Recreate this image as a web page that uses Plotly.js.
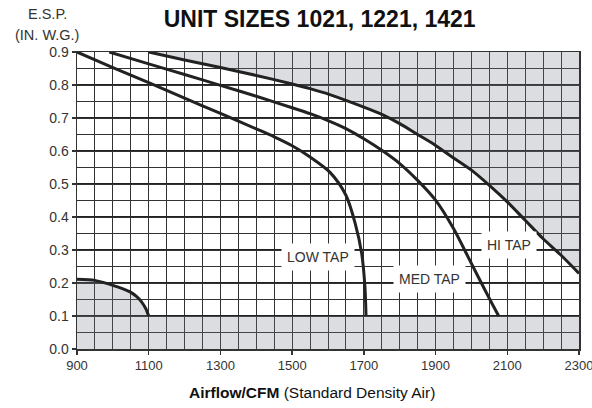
<!DOCTYPE html>
<html><head><meta charset="utf-8">
<script src="https://cdn.plot.ly/plotly-3.0.1.min.js"></script>
<style>html,body{margin:0;padding:0;background:#fff}#c{width:592px;height:408px}</style>
</head><body><div id="c"></div>
<script>
// Fan performance curves (CFM vs E.S.P.)
const lowX = [900, 1000, 1100, 1200, 1300, 1400, 1450, 1500, 1550, 1605, 1650, 1676, 1694, 1703, 1706];
const lowY = [0.9, 0.853, 0.807, 0.760, 0.714, 0.667, 0.643, 0.616, 0.582, 0.536, 0.466, 0.380, 0.289, 0.188, 0.10];
const medX = [990, 1100, 1200, 1300, 1400, 1500, 1550, 1605, 1650, 1700, 1750, 1800, 1850, 1900, 1950, 2000, 2050, 2076];
const medY = [0.9, 0.864, 0.832, 0.799, 0.766, 0.731, 0.713, 0.690, 0.668, 0.637, 0.602, 0.562, 0.511, 0.451, 0.365, 0.259, 0.153, 0.10];
const hiX = [1100, 1200, 1300, 1400, 1500, 1550, 1605, 1700, 1750, 1800, 1850, 1900, 1950, 2000, 2050, 2100, 2150, 2200, 2250, 2300];
const hiY = [0.9, 0.876, 0.853, 0.829, 0.803, 0.789, 0.771, 0.733, 0.711, 0.683, 0.650, 0.617, 0.579, 0.542, 0.496, 0.446, 0.390, 0.334, 0.284, 0.229];
// lower-left limit curve
const limX = [900, 950, 975, 1000, 1025, 1048, 1065, 1080, 1092, 1100];
const limY = [0.211, 0.208, 0.201, 0.193, 0.184, 0.173, 0.160, 0.143, 0.122, 0.10];
const bottomLimit = 0.1;
const xMin = 900, xMax = 2300, yMin = 0, yMax = 0.9;
const xTicks = [900, 1100, 1300, 1500, 1700, 1900, 2100, 2300];
const yTicks = [0.0, 0.1, 0.2, 0.3, 0.4, 0.5, 0.6, 0.7, 0.8, 0.9];
const xGridStep = 50, yGridStep = 0.05;
const tapLabels = ["LOW TAP", "MED TAP", "HI TAP"];
const tapLabelX = [1572, 1884, 2104];
const tapLabelY = [0.279, 0.212, 0.315];

const shade = 'rgba(120,125,135,0.26)';
const lineCol = '#222';

// top-right shaded region (above HI TAP)
const topX = hiX.concat([xMax, hiX[0]]);
const topY = hiY.concat([yMax, yMax]);
// bottom shaded region
const botX = [xMin, xMax, xMax].concat(limX.slice().reverse()).concat([xMin]);
const botY = [yMin, yMin, bottomLimit].concat(limY.slice().reverse()).concat([yMin]);

const curve = {color: lineCol, width: 3, shape: 'spline', smoothing: 0.8};
const traces = [
  {x: topX, y: topY, mode: 'lines', fill: 'toself', fillcolor: shade, line: {width: 0}, hoverinfo: 'skip'},
  {x: botX, y: botY, mode: 'lines', fill: 'toself', fillcolor: shade, line: {width: 0}, hoverinfo: 'skip'},
  {x: lowX, y: lowY, mode: 'lines', line: curve},
  {x: medX, y: medY, mode: 'lines', line: curve},
  {x: hiX, y: hiY, mode: 'lines', line: curve},
  {x: limX, y: limY, mode: 'lines', line: curve},
  // carrier for the fine horizontal grid axis (draws nothing)
  {x: lowX, y: lowY, yaxis: 'y2', mode: 'none', hoverinfo: 'skip'}
];

const font = 'Liberation Sans, Arial, sans-serif';
const annotations = tapLabels.map((t, i) => ({
  x: tapLabelX[i], y: tapLabelY[i], xref: 'x', yref: 'y', text: t, showarrow: false,
  bgcolor: '#fff', borderpad: 5, font: {family: font, size: 14, color: '#333'}
}));
annotations.push({xref: 'paper', yref: 'paper', x: -0.059, y: 1.128, text: 'E.S.P.', showarrow: false,
  xanchor: 'center', yanchor: 'middle', font: {family: font, size: 14.5, color: '#333'}});
annotations.push({xref: 'paper', yref: 'paper', x: -0.059, y: 1.058, text: '(IN. W.G.)', showarrow: false,
  xanchor: 'center', yanchor: 'middle', font: {family: font, size: 14.5, color: '#333'}});
annotations.push({xref: 'paper', yref: 'paper', x: 0.468, y: -0.147, text: '<b>Airflow/CFM</b> (Standard Density Air)', showarrow: false,
  xanchor: 'center', yanchor: 'middle', font: {family: font, size: 15.5, color: '#111'}});

const layout = {
  width: 592, height: 408,
  margin: {l: 77, r: 13, t: 52, b: 59},
  paper_bgcolor: '#fff', plot_bgcolor: '#fff',
  showlegend: false,
  title: {text: '<b>UNIT SIZES 1021, 1221, 1421</b>', x: 0.54, xanchor: 'center', y: 0.953, yanchor: 'middle',
    font: {family: font, size: 23, color: '#111'}},
  xaxis: {range: [xMin, xMax], tickmode: 'array', tickvals: xTicks, ticktext: xTicks.map(String),
    ticks: 'outside', ticklen: 4, tickcolor: '#333', tickwidth: 1.5, ticklabeloverflow: 'allow',
    showgrid: true, gridcolor: '#333', gridwidth: 1.2,
    minor: {tickmode: 'linear', dtick: xGridStep, tick0: xMin, showgrid: true, gridcolor: '#333', gridwidth: 1, ticks: ''},
    showline: true, linecolor: '#333', linewidth: 1.5, mirror: true, zeroline: false,
    tickfont: {family: font, size: 13, color: '#333'}},
  yaxis: {range: [yMin, yMax], tickmode: 'array', tickvals: yTicks, ticktext: yTicks.map(v => v.toFixed(1)),
    ticks: 'outside', ticklen: 4, tickcolor: '#333', tickwidth: 1.5, ticklabeloverflow: 'allow',
    showgrid: true, gridcolor: '#222', gridwidth: 1.4,
    showline: true, linecolor: '#333', linewidth: 1.5, mirror: true, zeroline: false,
    tickfont: {family: font, size: 14, color: '#333'}},
  yaxis2: {overlaying: 'y', side: 'left', range: [yMin, yMax], tickmode: 'linear', tick0: yMin, dtick: yGridStep,
    showgrid: true, gridcolor: '#333', gridwidth: 1, showticklabels: false, ticks: '',
    showline: false, zeroline: false},
  annotations: annotations
};
Plotly.newPlot('c', traces, layout, {staticPlot: true, displayModeBar: false});
</script></body></html>
